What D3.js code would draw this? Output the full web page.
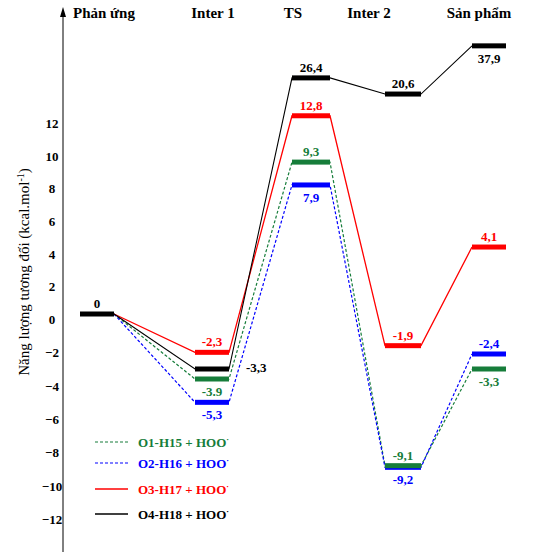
<!DOCTYPE html>
<html>
<head>
<meta charset="utf-8">
<script src="https://cdn.jsdelivr.net/npm/d3@7"></script>
<style>
  body { margin: 0; background: #fff; }
  svg text { font-family: "Liberation Serif", "Times New Roman", serif; }
</style>
</head>
<body>
<svg id="chart"></svg>
<script>
// Chart data
const stages = ['Phản ứng', 'Inter 1', 'TS', 'Inter 2', 'Sản phẩm'];
const o1h15 = [0, -3.9, 9.3, -9.1, -3.3];
const o2h16 = [0, -5.3, 7.9, -9.2, -2.4];
const o3h17 = [0, -2.3, 12.8, -1.9, 4.1];
const o4h18 = [0, -3.3, 26.4, 20.6, 37.9];
const o1h15Labels = ['', '-3.9', '9,3', '-9,1', '-3,3'];
const o2h16Labels = ['', '-5,3', '7,9', '-9,2', '-2,4'];
const o3h17Labels = ['', '-2,3', '12,8', '-1,9', '4,1'];
const o4h18Labels = ['0', '-3,3', '26,4', '20,6', '37,9'];
const seriesNames = ['O1-H15 + HOO', 'O2-H16 + HOO', 'O3-H17 + HOO', 'O4-H18 + HOO'];
const yTicks = [12, 10, 8, 6, 4, 2, 0, -2, -4, -6, -8, -10, -12];

// Layout
const width = 535, height = 552;
const axisX = 63;
const stageX = [97, 212, 311, 403, 489];
const halfBar = [17, 17, 19, 18, 17];

const svg = d3.select('#chart')
    .attr('width', width)
    .attr('height', height);

// x: stage index -> centre of the level bar
const xScale = d3.scaleLinear()
    .domain(d3.range(stages.length))
    .range(stageX);

// y: broken above 12 (schematic diagram)
const yScale = d3.scaleLinear()
    .domain([-12, 0, 12, 40])
    .range([514, 314, 118, 40]);

const series = [
    { name: seriesNames[0], values: o1h15, labels: o1h15Labels, color: '#167d3a', dash: '3,2', width: 1.2,
      pos: ['', 'b', 'a', 'a', 'b'] },
    { name: seriesNames[1], values: o2h16, labels: o2h16Labels, color: '#0000ff', dash: '3,2', width: 1.2,
      pos: ['', 'b', 'b', 'b', 'a'] },
    { name: seriesNames[2], values: o3h17, labels: o3h17Labels, color: '#ff0000', dash: null, width: 1.3,
      pos: ['', 'a', 'a', 'a', 'a'] },
    { name: seriesNames[3], values: o4h18, labels: o4h18Labels, color: '#000000', dash: null, width: 1.1,
      pos: ['a', 'r', 'a', 'a', 'b'] }
];

// Y axis line with arrow
svg.append('line')
    .attr('x1', axisX).attr('x2', axisX)
    .attr('y1', 14).attr('y2', height)
    .attr('stroke', '#000').attr('stroke-width', 1);
svg.append('path')
    .attr('d', `M${axisX},7 L${axisX - 3},17 L${axisX + 3},17 Z`)
    .attr('fill', '#000');

const yAxis = svg.append('g')
    .attr('transform', `translate(${axisX},0)`)
    .call(d3.axisLeft(yScale).tickValues(yTicks).tickSize(0).tickPadding(0));
yAxis.select('.domain').remove();
yAxis.selectAll('text')
    .attr('x', -11)
    .attr('dy', '0.72em')
    .attr('text-anchor', 'middle')
    .style('font-family', '"Liberation Serif", serif')
    .style('font-size', '13px')
    .style('font-weight', 'bold')
    .attr('fill', '#000');

// Y axis title
const yTitle = svg.append('text')
    .attr('transform', 'translate(29,272) rotate(-90)')
    .attr('text-anchor', 'middle')
    .style('font-size', '15px');
yTitle.append('tspan').text('Năng lượng tương đối (kcal.mol');
yTitle.append('tspan').attr('baseline-shift', 'super').style('font-size', '10px').text('-1');
yTitle.append('tspan').text(')');

// Stage headers
const headerShift = [7, 1, -18, -34, -10];
svg.selectAll('.header')
    .data(stages)
    .join('text')
    .attr('class', 'header')
    .attr('x', (d, i) => xScale(i) + headerShift[i])
    .attr('y', 18)
    .attr('text-anchor', 'middle')
    .style('font-size', '15px')
    .style('font-weight', 'bold')
    .text(d => d);

// Connectors between levels
series.forEach(s => {
    const pts = [];
    s.values.forEach((v, i) => {
        pts.push([xScale(i) - halfBar[i], yScale(v)]);
        pts.push([xScale(i) + halfBar[i], yScale(v)]);
    });
    svg.append('path')
        .attr('d', d3.line()(pts.slice(1, -1)))
        .attr('fill', 'none')
        .attr('stroke', s.color)
        .attr('stroke-width', s.width)
        .attr('stroke-dasharray', s.dash);
});

// Level bars (blue under green so both show at Inter 2)
[1, 0, 2, 3].forEach(k => {
    const s = series[k];
    svg.selectAll(`.bar${k}`)
        .data(s.values.map((v, i) => ({ v, i })).filter(d => d.i > 0 || k === 3))
        .join('rect')
        .attr('class', `bar${k}`)
        .attr('x', d => xScale(d.i) - halfBar[d.i])
        .attr('y', d => yScale(d.v) - 2.5)
        .attr('width', d => halfBar[d.i] * 2)
        .attr('height', 5)
        .attr('fill', s.color);
});

// Value labels
series.forEach((s, k) => {
    svg.selectAll(`.lab${k}`)
        .data(s.values.map((v, i) => ({ v, i, t: s.labels[i], p: s.pos[i] })).filter(d => d.t !== ''))
        .join('text')
        .attr('class', `lab${k}`)
        .attr('x', d => d.p === 'r' ? xScale(d.i) + halfBar[d.i] + 17 : xScale(d.i))
        .attr('y', d => yScale(d.v) + (d.p === 'a' ? -6 : d.p === 'b' ? 17 : 3))
        .attr('text-anchor', d => d.p === 'r' ? 'start' : 'middle')
        .style('font-size', '13px')
        .style('font-weight', 'bold')
        .attr('fill', s.color)
        .text(d => d.t);
});

// Legend
const legendY = [442, 463, 489, 514];
const legend = svg.selectAll('.legend')
    .data(series)
    .join('g')
    .attr('class', 'legend')
    .attr('transform', (d, i) => `translate(95,${legendY[i]})`);
legend.append('line')
    .attr('x1', 0).attr('x2', 33)
    .attr('stroke', d => d.color)
    .attr('stroke-width', d => d.dash ? 1.2 : 1.6)
    .attr('stroke-dasharray', d => d.dash);
const legendText = legend.append('text')
    .attr('x', 43)
    .attr('dy', '0.35em')
    .style('font-size', '13px')
    .style('font-weight', 'bold')
    .attr('fill', d => d.color);
legendText.append('tspan').text(d => d.name);
legendText.append('tspan')
    .attr('baseline-shift', '5')
    .style('font-size', '8px')
    .text('·');
</script>
</body>
</html>
